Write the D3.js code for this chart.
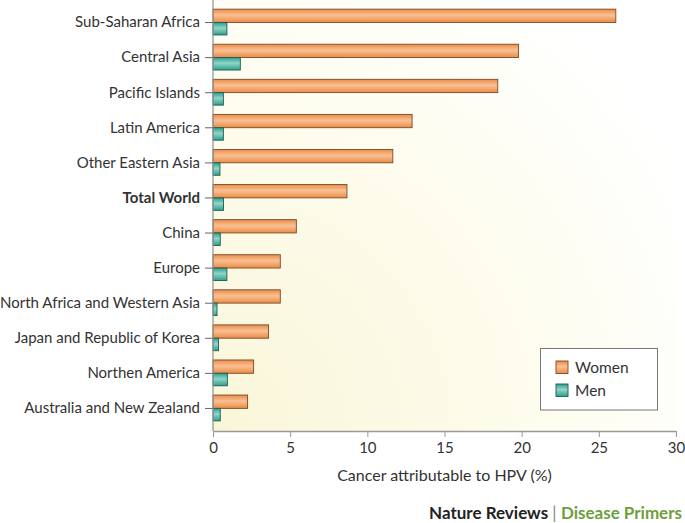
<!DOCTYPE html>
<html>
<head>
<meta charset="utf-8">
<script src="https://cdn.jsdelivr.net/npm/d3@7"></script>
<style>
  body { margin: 0; background: #fff; }
  svg text { font-family: Lato, "Open Sans", sans-serif; }
</style>
</head>
<body>
<script>
var regions = ["Sub-Saharan Africa", "Central Asia", "Pacific Islands", "Latin America",
    "Other Eastern Asia", "Total World", "China", "Europe", "North Africa and Western Asia",
    "Japan and Republic of Korea", "Northen America", "Australia and New Zealand"];
var women = [26.1, 19.8, 18.45, 12.9, 11.65, 8.68, 5.4, 4.36, 4.36, 3.6, 2.63, 2.24];
var men = [0.9, 1.77, 0.67, 0.67, 0.45, 0.68, 0.47, 0.9, 0.26, 0.36, 0.93, 0.47];
var series = ["Women", "Men"];
var xTicks = [0, 5, 10, 15, 20, 25, 30];

var width = 685,
    height = 523;

var svg = d3.select("body")
    .append("svg")
    .attr("width", width)
    .attr("height", height);

var defs = svg.append("defs");

var bg = defs.append("radialGradient")
    .attr("id", "bg")
    .attr("gradientUnits", "userSpaceOnUse")
    .attr("cx", 213).attr("cy", 431).attr("r", 540);
bg.append("stop").attr("offset", "0%").attr("stop-color", "#f9f6d8");
bg.append("stop").attr("offset", "55%").attr("stop-color", "#fdfcec");
bg.append("stop").attr("offset", "100%").attr("stop-color", "#ffffff");

function barGradient(id, edge, mid) {
    var g = defs.append("linearGradient").attr("id", id)
        .attr("x1", 0).attr("y1", 0).attr("x2", 0).attr("y2", 1);
    g.append("stop").attr("offset", "0%").attr("stop-color", edge);
    g.append("stop").attr("offset", "45%").attr("stop-color", mid);
    g.append("stop").attr("offset", "100%").attr("stop-color", edge);
}
barGradient("gWomen", "#ec8c44", "#f9c094");
barGradient("gMen", "#2f9e8e", "#8fd6c8");

var fills = { Women: "url(#gWomen)", Men: "url(#gMen)" };
var strokes = { Women: "#7a4a2a", Men: "#1d5a52" };

var x = d3.scaleLinear()
    .domain([0, 30])
    .range([213, 676]);

var y = d3.scaleBand()
    .domain(regions)
    .range([5, 426]);

var ySeries = d3.scaleBand()
    .domain(series)
    .range([-13.4, 13.2]);

// background
svg.append("rect")
    .attr("x", 213).attr("y", 0)
    .attr("width", 676 - 213).attr("height", 431)
    .attr("fill", "url(#bg)");

var rows = svg.append("g")
    .selectAll("g")
    .data(regions)
    .enter()
    .append("g")
    .attr("transform", function(d) { return "translate(0," + (y(d) + y.bandwidth() / 2) + ")"; });

rows.selectAll("rect")
    .data(function(d, i) {
        return [{ s: "Women", v: women[i] }, { s: "Men", v: men[i] }];
    })
    .enter()
    .append("rect")
    .attr("x", x(0))
    .attr("y", function(d) { return ySeries(d.s); })
    .attr("width", function(d) { return x(d.v) - x(0); })
    .attr("height", function(d) { return ySeries.bandwidth() - (d.s == "Men" ? 0.8 : 0); })
    .attr("fill", function(d) { return fills[d.s]; })
    .attr("stroke", function(d) { return strokes[d.s]; })
    .attr("stroke-width", 0.9);

// axes
var xAxis = svg.append("g")
    .attr("transform", "translate(0,431)")
    .call(d3.axisBottom(x).tickValues(xTicks).tickSize(6).tickSizeOuter(0).tickPadding(5));
xAxis.select(".domain").attr("stroke", "#999").attr("stroke-width", 1.3);
xAxis.selectAll(".tick line").attr("stroke", "#999");
xAxis.selectAll("text")
    .attr("font-size", 15)
    .attr("fill", "#333");

var yAxis = svg.append("g")
    .attr("transform", "translate(213,0)")
    .call(d3.axisLeft(y).tickSize(8).tickSizeOuter(0).tickPadding(5));
yAxis.select(".domain").attr("d", "M0,0V431").attr("stroke", "#999").attr("stroke-width", 1.3);
yAxis.selectAll(".tick line").attr("stroke", "#666");
yAxis.selectAll("text")
    .attr("font-size", 15)
    .attr("fill", "#333")
    .attr("font-weight", function(d) { return d == "Total World" ? "bold" : "normal"; });

svg.append("text")
    .attr("x", x(15))
    .attr("y", 481)
    .attr("text-anchor", "middle")
    .attr("font-size", 16)
    .attr("fill", "#333")
    .text("Cancer attributable to HPV (%)");

// legend
var legend = svg.append("g");
legend.append("rect")
    .attr("x", 540.5).attr("y", 348.5)
    .attr("width", 117).attr("height", 61.5)
    .attr("fill", "#fff")
    .attr("stroke", "#777");

var items = legend.selectAll("g.item")
    .data(series)
    .enter()
    .append("g")
    .attr("transform", function(d, i) { return "translate(556," + (361 + i * 23) + ")"; });
items.append("rect")
    .attr("width", 12).attr("height", 12.5)
    .attr("fill", function(d) { return fills[d]; })
    .attr("stroke", function(d) { return strokes[d]; })
    .attr("stroke-width", 0.9);
items.append("text")
    .attr("x", 19).attr("y", 12)
    .attr("font-size", 15.5)
    .attr("fill", "#333")
    .text(function(d) { return d; });

// footer
var foot = svg.append("text")
    .attr("x", 682)
    .attr("y", 519)
    .attr("text-anchor", "end")
    .attr("font-size", 17)
    .attr("font-weight", "bold");
foot.append("tspan").attr("fill", "#222").text("Nature Reviews ");
foot.append("tspan").attr("fill", "#888").attr("font-weight", "normal").text("| ");
foot.append("tspan").attr("fill", "#6d9f3c").text("Disease Primers");
</script>
</body>
</html>
